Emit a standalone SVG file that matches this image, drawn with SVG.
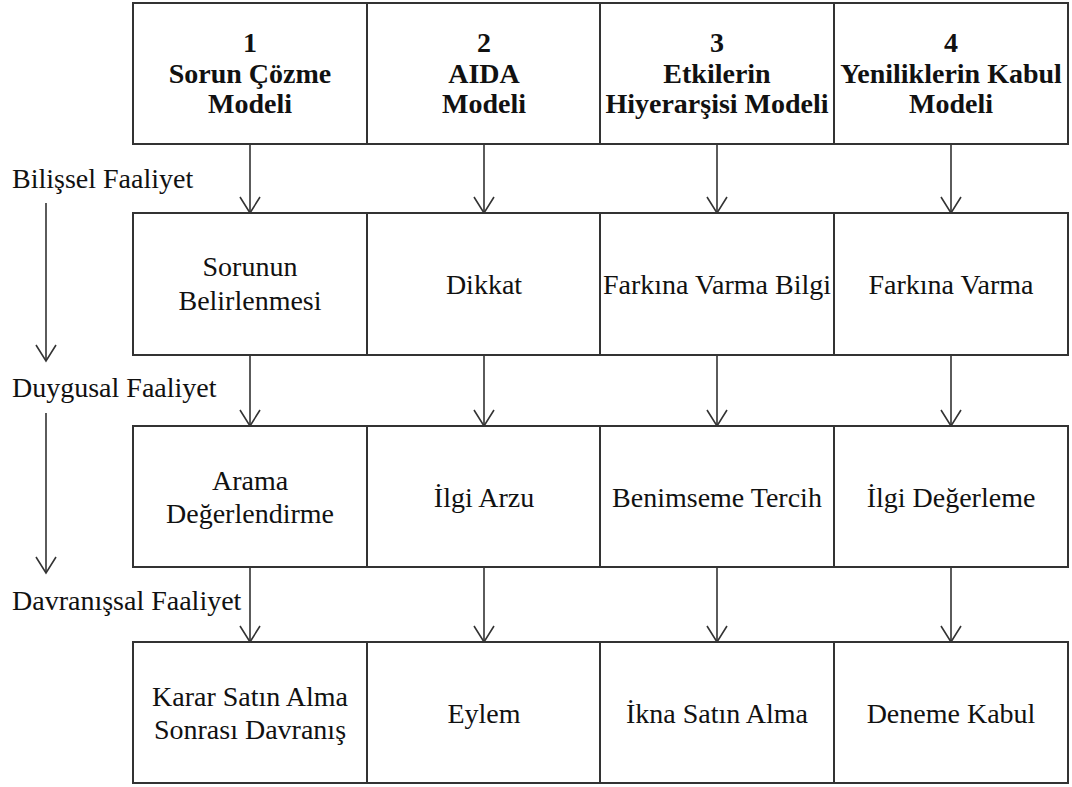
<svg xmlns="http://www.w3.org/2000/svg" width="1072" height="787" viewBox="0 0 1072 787">
<style>
.box{fill:#fff;stroke:#333;stroke-width:2}
.c{stroke:#333;stroke-width:1.6;fill:none}
</style>
<defs>
<path id="ah" d="M-10,-16 L0,0 L10,-16" fill="none" stroke="#333" stroke-width="1.6"/>
</defs>
<rect width="1072" height="787" fill="#fff"/>
<g id="connectors">
<line class="c" x1="250" y1="144" x2="250" y2="213"/><use href="#ah" x="250" y="213"/>
<line class="c" x1="484" y1="144" x2="484" y2="213"/><use href="#ah" x="484" y="213"/>
<line class="c" x1="717" y1="144" x2="717" y2="213"/><use href="#ah" x="717" y="213"/>
<line class="c" x1="951" y1="144" x2="951" y2="213"/><use href="#ah" x="951" y="213"/>
<line class="c" x1="250" y1="355" x2="250" y2="426"/><use href="#ah" x="250" y="426"/>
<line class="c" x1="484" y1="355" x2="484" y2="426"/><use href="#ah" x="484" y="426"/>
<line class="c" x1="717" y1="355" x2="717" y2="426"/><use href="#ah" x="717" y="426"/>
<line class="c" x1="951" y1="355" x2="951" y2="426"/><use href="#ah" x="951" y="426"/>
<line class="c" x1="250" y1="567" x2="250" y2="642"/><use href="#ah" x="250" y="642"/>
<line class="c" x1="484" y1="567" x2="484" y2="642"/><use href="#ah" x="484" y="642"/>
<line class="c" x1="717" y1="567" x2="717" y2="642"/><use href="#ah" x="717" y="642"/>
<line class="c" x1="951" y1="567" x2="951" y2="642"/><use href="#ah" x="951" y="642"/>
<line class="c" x1="46" y1="203" x2="46" y2="361"/><use href="#ah" x="46" y="361"/>
<line class="c" x1="46" y1="413" x2="46" y2="573"/><use href="#ah" x="46" y="573"/>
</g>
<g id="labels">
<text x="12" y="188" font-family="Liberation Serif" font-size="28" fill="#111">Bilişsel Faaliyet</text>
<text x="12" y="397" font-family="Liberation Serif" font-size="28" fill="#111">Duygusal Faaliyet</text>
<text x="12" y="610" font-family="Liberation Serif" font-size="28" fill="#111">Davranışsal Faaliyet</text>
</g>
<g id="h1"><rect class="box" x="133" y="3" width="234" height="141"/>
<text x="250" y="52" font-family="Liberation Serif" font-size="28" font-weight="bold" text-anchor="middle" fill="#111">1</text>
<text x="250" y="83" font-family="Liberation Serif" font-size="28" font-weight="bold" text-anchor="middle" fill="#111">Sorun Çözme</text>
<text x="250" y="113" font-family="Liberation Serif" font-size="28" font-weight="bold" text-anchor="middle" fill="#111">Modeli</text></g>
<g id="h2"><rect class="box" x="367" y="3" width="233" height="141"/>
<text x="484" y="52" font-family="Liberation Serif" font-size="28" font-weight="bold" text-anchor="middle" fill="#111">2</text>
<text x="484" y="83" font-family="Liberation Serif" font-size="28" font-weight="bold" text-anchor="middle" fill="#111">AIDA</text>
<text x="484" y="113" font-family="Liberation Serif" font-size="28" font-weight="bold" text-anchor="middle" fill="#111">Modeli</text></g>
<g id="h3"><rect class="box" x="600" y="3" width="234" height="141"/>
<text x="717" y="52" font-family="Liberation Serif" font-size="28" font-weight="bold" text-anchor="middle" fill="#111">3</text>
<text x="717" y="83" font-family="Liberation Serif" font-size="28" font-weight="bold" text-anchor="middle" fill="#111">Etkilerin</text>
<text x="717" y="113" font-family="Liberation Serif" font-size="28" font-weight="bold" text-anchor="middle" fill="#111">Hiyerarşisi Modeli</text></g>
<g id="h4"><rect class="box" x="834" y="3" width="234" height="141"/>
<text x="951" y="52" font-family="Liberation Serif" font-size="28" font-weight="bold" text-anchor="middle" fill="#111">4</text>
<text x="951" y="83" font-family="Liberation Serif" font-size="28" font-weight="bold" text-anchor="middle" fill="#111">Yeniliklerin Kabul</text>
<text x="951" y="113" font-family="Liberation Serif" font-size="28" font-weight="bold" text-anchor="middle" fill="#111">Modeli</text></g>
<g id="r2c1"><rect class="box" x="133" y="213" width="234" height="142"/>
<text x="250" y="276" font-family="Liberation Serif" font-size="28" text-anchor="middle" fill="#111">Sorunun</text>
<text x="250" y="310" font-family="Liberation Serif" font-size="28" text-anchor="middle" fill="#111">Belirlenmesi</text></g>
<g id="r2c2"><rect class="box" x="367" y="213" width="233" height="142"/>
<text x="484" y="294" font-family="Liberation Serif" font-size="28" text-anchor="middle" fill="#111">Dikkat</text></g>
<g id="r2c3"><rect class="box" x="600" y="213" width="234" height="142"/>
<text x="717" y="294" font-family="Liberation Serif" font-size="28" text-anchor="middle" fill="#111">Farkına Varma Bilgi</text></g>
<g id="r2c4"><rect class="box" x="834" y="213" width="234" height="142"/>
<text x="951" y="294" font-family="Liberation Serif" font-size="28" text-anchor="middle" fill="#111">Farkına Varma</text></g>
<g id="r3c1"><rect class="box" x="133" y="426" width="234" height="141"/>
<text x="250" y="490" font-family="Liberation Serif" font-size="28" text-anchor="middle" fill="#111">Arama</text>
<text x="250" y="523" font-family="Liberation Serif" font-size="28" text-anchor="middle" fill="#111">Değerlendirme</text></g>
<g id="r3c2"><rect class="box" x="367" y="426" width="233" height="141"/>
<text x="484" y="507" font-family="Liberation Serif" font-size="28" text-anchor="middle" fill="#111">İlgi Arzu</text></g>
<g id="r3c3"><rect class="box" x="600" y="426" width="234" height="141"/>
<text x="717" y="507" font-family="Liberation Serif" font-size="28" text-anchor="middle" fill="#111">Benimseme Tercih</text></g>
<g id="r3c4"><rect class="box" x="834" y="426" width="234" height="141"/>
<text x="951" y="507" font-family="Liberation Serif" font-size="28" text-anchor="middle" fill="#111">İlgi Değerleme</text></g>
<g id="r4c1"><rect class="box" x="133" y="642" width="234" height="141"/>
<text x="250" y="706" font-family="Liberation Serif" font-size="28" text-anchor="middle" fill="#111">Karar Satın Alma</text>
<text x="250" y="739" font-family="Liberation Serif" font-size="28" text-anchor="middle" fill="#111">Sonrası Davranış</text></g>
<g id="r4c2"><rect class="box" x="367" y="642" width="233" height="141"/>
<text x="484" y="723" font-family="Liberation Serif" font-size="28" text-anchor="middle" fill="#111">Eylem</text></g>
<g id="r4c3"><rect class="box" x="600" y="642" width="234" height="141"/>
<text x="717" y="723" font-family="Liberation Serif" font-size="28" text-anchor="middle" fill="#111">İkna Satın Alma</text></g>
<g id="r4c4"><rect class="box" x="834" y="642" width="234" height="141"/>
<text x="951" y="723" font-family="Liberation Serif" font-size="28" text-anchor="middle" fill="#111">Deneme Kabul</text></g>
</svg>
